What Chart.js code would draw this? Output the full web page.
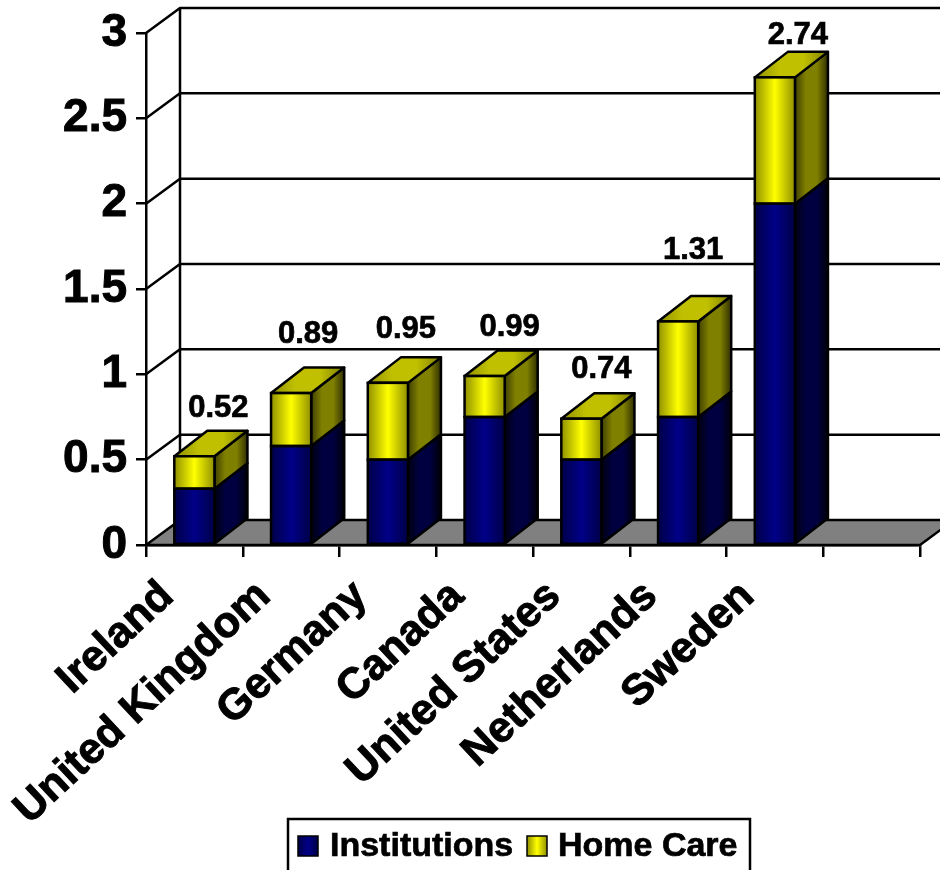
<!DOCTYPE html>
<html lang="en">

<head>
    <meta charset="UTF-8">
    <title>Institutions and home care</title>
    <style>
        html, body { margin: 0; padding: 0; background: #fff; overflow: hidden; }
        canvas { display: block; }
    </style>
</head>

<body>

    <canvas id="myChart" width="940" height="870"></canvas>

    <script src="https://cdnjs.cloudflare.com/ajax/libs/Chart.js/4.4.1/chart.umd.min.js"></script>

    <script>
        // last category is empty in the original
        const categories = ['Ireland', 'United Kingdom', 'Germany', 'Canada', 'United States', 'Netherlands', 'Sweden', ''];
        const institutions = [0.33, 0.58, 0.50, 0.75, 0.50, 0.75, 2.00, null];
        const homeCare = [0.19, 0.31, 0.45, 0.24, 0.24, 0.56, 0.74, null];
        const totals = ['0.52', '0.89', '0.95', '0.99', '0.74', '1.31', '2.74'];
        const yTicks = [0, 0.5, 1, 1.5, 2, 2.5, 3];

        const FONT = '"Liberation Sans", Arial, sans-serif';
        const WALL_X = 34;
        const WALL_Y = -25;
        const BAR_X = 33;
        const BAR_Y = -25.5;
        const LINE = 2.5;
        // the data labels sit at slightly irregular spots, [dx, dy] from the bar's top
        const labelNudge = [[24, -48], [17, -59], [18, -53], [25, -49], [20, -49], [15, -71], [23, -42]];

        const palette = [
            {
                front: ['#000048', '#000088', '#000048'],
                side: ['#000010', '#000040', '#000040', '#000008']
            },
            {
                front: ['#909000', '#ffff00', '#909000'],
                side: ['#404000', '#808000', '#808000', '#303000'],
                top: ['#909000', '#c0c000', '#c0c000', '#808000']
            }
        ];

        function hGradient(c, x1, x2, stops) {
            const g = c.createLinearGradient(x1, 0, x2, 0);
            stops.forEach((s, i) => g.addColorStop(i / (stops.length - 1), s));
            return g;
        }

        function frontFill(ctx) {
            if (ctx.type !== 'data') return '#000';
            const chart = ctx.chart;
            const cx = chart.scales.x.getPixelForValue(ctx.dataIndex);
            // scales have no size yet on the first pass
            if (!Number.isFinite(cx)) return '#000';
            return hGradient(chart.ctx, cx - 20, cx + 20, palette[ctx.datasetIndex].front);
        }

        function poly(c, pts, fill) {
            c.beginPath();
            pts.forEach((p, i) => i ? c.lineTo(p[0], p[1]) : c.moveTo(p[0], p[1]));
            c.closePath();
            if (fill) {
                c.fillStyle = fill;
                c.fill();
            }
            c.stroke();
        }

        // walls, floor and the side/top faces of the bars, all taken from the scales
        const box3d = {
            id: 'box3d',
            beforeDatasetsDraw(chart) {
                const c = chart.ctx;
                const { x, y } = chart.scales;
                const left = x.left, right = x.right, bottom = y.getPixelForValue(0);
                c.save();
                c.strokeStyle = '#000';
                c.lineWidth = LINE;
                c.lineJoin = 'round';

                // back wall lines
                yTicks.forEach(v => {
                    if (v === 0) return;
                    const py = y.getPixelForValue(v);
                    c.beginPath();
                    c.moveTo(left, py);
                    c.lineTo(left + WALL_X, py + WALL_Y);
                    c.lineTo(right + WALL_X, py + WALL_Y);
                    c.stroke();
                });
                c.beginPath();
                c.moveTo(left + WALL_X, y.getPixelForValue(3) + WALL_Y);
                c.lineTo(left + WALL_X, bottom + WALL_Y);
                c.stroke();

                // floor
                poly(c, [[left, bottom], [right, bottom], [right + WALL_X, bottom + WALL_Y], [left + WALL_X, bottom + WALL_Y]], '#808080');

                // bar faces
                chart.data.datasets.forEach((ds, i) => {
                    chart.getDatasetMeta(i).data.forEach((bar, j) => {
                        if (ds.data[j] === null) return;
                        const x1 = bar.x - bar.width / 2, x2 = bar.x + bar.width / 2;
                        poly(c, [[x2, bar.y], [x2 + BAR_X, bar.y + BAR_Y], [x2 + BAR_X, bar.base + BAR_Y], [x2, bar.base]],
                            hGradient(c, x2, x2 + BAR_X, palette[i].side));
                        if (palette[i].top) {
                            poly(c, [[x1, bar.y], [x2, bar.y], [x2 + BAR_X, bar.y + BAR_Y], [x1 + BAR_X, bar.y + BAR_Y]],
                                hGradient(c, x1, x2 + BAR_X, palette[i].top));
                        }
                    });
                });
                c.restore();
            },
            afterDatasetsDraw(chart) {
                const c = chart.ctx;
                c.save();
                c.strokeStyle = '#000';
                c.lineWidth = LINE;

                // outlines of the front faces, native borders leave a light seam between the stacks
                chart.data.datasets.forEach((ds, i) => {
                    chart.getDatasetMeta(i).data.forEach((bar, j) => {
                        if (ds.data[j] === null) return;
                        c.strokeRect(bar.x - bar.width / 2, bar.y, bar.width, bar.base - bar.y);
                    });
                });

                const meta = chart.getDatasetMeta(1);
                c.fillStyle = '#000';
                c.lineWidth = 0.7;
                c.font = 'bold 31px ' + FONT;
                c.textAlign = 'center';
                c.textBaseline = 'middle';
                totals.forEach((t, j) => {
                    const bar = meta.data[j];
                    c.fillText(t, bar.x + labelNudge[j][0], bar.y + labelNudge[j][1]);
                    c.strokeText(t, bar.x + labelNudge[j][0], bar.y + labelNudge[j][1]);
                });
                c.restore();
            },
            afterDraw(chart) {
                // legend box runs off the bottom of the picture
                const c = chart.ctx;
                c.save();
                c.strokeStyle = '#000';
                c.lineWidth = LINE;
                c.strokeRect(288, 819, 462, 70);
                c.font = 'bold 34px ' + FONT;
                c.textBaseline = 'middle';
                const swatchX = [298, 527], textX = [330, 558];
                chart.data.datasets.forEach((ds, i) => {
                    c.lineWidth = 1.5;
                    c.fillStyle = hGradient(c, swatchX[i], swatchX[i] + 20, palette[i].front);
                    c.fillRect(swatchX[i], 836, 20, 20);
                    c.strokeRect(swatchX[i], 836, 20, 20);
                    c.fillStyle = '#000';
                    c.lineWidth = 0.7;
                    c.fillText(ds.label, textX[i], 847);
                    c.strokeText(ds.label, textX[i], 847);
                });
                c.restore();
            }
        };

        const ctx = document.getElementById('myChart').getContext('2d');

        new Chart(ctx, {
            type: 'bar',
            data: {
                labels: categories,
                datasets: [
                    { label: 'Institutions', data: institutions, backgroundColor: frontFill },
                    { label: 'Home Care', data: homeCare, backgroundColor: frontFill }
                ]
            },
            plugins: [box3d],
            options: {
                responsive: false,
                animation: false,
                devicePixelRatio: 1,
                layout: { padding: { left: 0, right: 20, top: 33, bottom: 0 } },
                datasets: {
                    bar: {
                        barPercentage: 0.415,
                        categoryPercentage: 1,
                        borderWidth: 0,
                        inflateAmount: 0
                    }
                },
                plugins: {
                    legend: { display: false },
                    title: { display: false },
                    tooltip: { enabled: false }
                },
                scales: {
                    x: {
                        stacked: true,
                        afterFit(scale) { scale.height = 325; },
                        border: { color: '#000', width: LINE },
                        grid: { offset: true, drawOnChartArea: false, color: '#000', lineWidth: LINE, tickLength: 12 },
                        ticks: {
                            autoSkip: false,
                            minRotation: 43,
                            maxRotation: 43,
                            color: '#000',
                            padding: 14,
                            labelOffset: -27,
                            textStrokeColor: '#000',
                            textStrokeWidth: 1,
                            font: { family: FONT, size: 43, weight: 'bold' }
                        }
                    },
                    y: {
                        stacked: true,
                        min: 0,
                        max: 3,
                        afterFit(scale) { scale.width = 146; },
                        afterBuildTicks(scale) { scale.ticks = yTicks.map(v => ({ value: v })); },
                        border: { color: '#000', width: LINE },
                        grid: { drawOnChartArea: false, color: '#000', lineWidth: LINE, tickLength: 10 },
                        ticks: {
                            color: '#000',
                            padding: 9,
                            callback: v => String(v),
                            textStrokeColor: '#000',
                            textStrokeWidth: 1,
                            font: { family: FONT, size: 46, weight: 'bold', lineHeight: 1 }
                        }
                    }
                }
            }
        });
    </script>

</body>

</html>
